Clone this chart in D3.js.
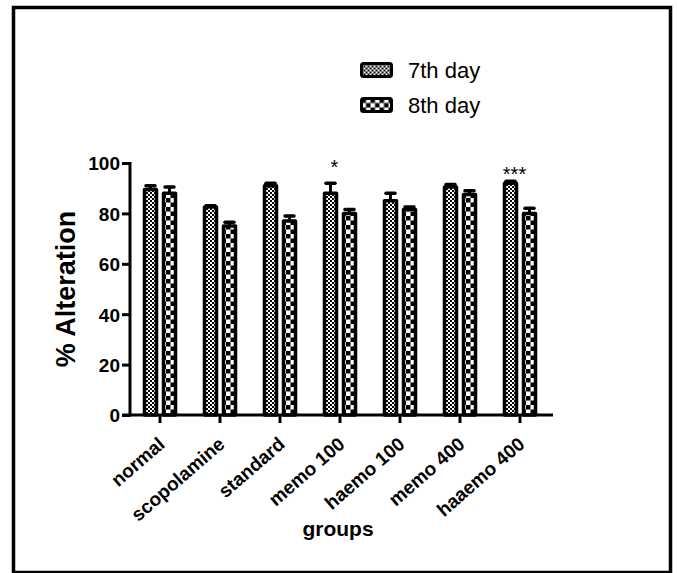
<!DOCTYPE html>
<html>
<head>
<meta charset="utf-8">
<script src="https://cdn.jsdelivr.net/npm/d3@7"></script>
<style>
  html, body { margin: 0; padding: 0; background: #fff; }
  svg { display: block; }
  text { font-family: "Liberation Sans", Arial, sans-serif; }
</style>
</head>
<body>
<svg id="chart" width="677" height="573"></svg>
<script>
// Groups and the two test days
const groups = ["normal", "scopolamine", "standard", "memo 100", "haemo 100", "memo 400", "haaemo 400"];
const series = ["7th day", "8th day"];

// Mean % alternation per group
const day7 = [89.5, 82.5, 91, 88, 85, 90.5, 92];
const day8 = [88, 75, 77, 80, 81.5, 87.5, 80];

// Standard errors (drawn upward only)
const err7 = [1.5, 0.5, 1, 4, 3, 1, 0.8];
const err8 = [2.5, 1.5, 2, 1.5, 1, 1.5, 2];

// Significance marks above the 7th-day bars, with the level (in % units) of their baseline
const stars = ["", "", "", "*", "", "", "***"];
const starLevel = [0, 0, 0, 95.5, 0, 0, 93];

const yTicks = [0, 20, 40, 60, 80, 100];

const svg = d3.select("#chart");

// Outer frame
svg.append("rect")
  .attr("x", 13.5).attr("y", 7.5)
  .attr("width", 657).attr("height", 565)
  .attr("fill", "none").attr("stroke", "#000").attr("stroke-width", 3.5);

// Fill patterns: fine checks for day 7, coarse checks for day 8
const defs = svg.append("defs");
function checker(id, s) {
  const p = defs.append("pattern")
    .attr("id", id).attr("patternUnits", "userSpaceOnUse")
    .attr("width", 2 * s).attr("height", 2 * s);
  p.append("rect").attr("width", 2 * s).attr("height", 2 * s).attr("fill", "#fff");
  p.append("rect").attr("width", s).attr("height", s).attr("fill", "#000");
  p.append("rect").attr("x", s).attr("y", s).attr("width", s).attr("height", s).attr("fill", "#000");
}
checker("fine", 2);
checker("coarse", 4.5);
const fills = ["url(#fine)", "url(#coarse)"];

const x0 = d3.scaleBand().domain(groups).range([130, 550]);
const x1 = d3.scaleBand().domain(series).range([14.5, 45.5]).paddingInner(7 / 19);
const y = d3.scaleLinear().domain([0, 100]).range([415, 163]);

const rows = groups.map((g, i) => ({
  g,
  vals: [
    { s: series[0], v: day7[i], e: err7[i], star: stars[i], lvl: starLevel[i] },
    { s: series[1], v: day8[i], e: err8[i], star: "", lvl: 0 }
  ]
}));

const gGroup = svg.selectAll("g.grp").data(rows).join("g")
  .attr("class", "grp")
  .attr("transform", d => `translate(${x0(d.g)},0)`);

// Error bars (upward whisker + cap)
gGroup.selectAll("g.err").data(d => d.vals).join("g")
  .attr("class", "err")
  .each(function (d) {
    const cx = x1(d.s) + x1.bandwidth() / 2;
    const g = d3.select(this);
    g.append("line")
      .attr("x1", cx).attr("x2", cx)
      .attr("y1", y(d.v)).attr("y2", y(d.v + d.e))
      .attr("stroke", "#000").attr("stroke-width", 3);
    g.append("line")
      .attr("x1", cx - 4.5).attr("x2", cx + 4.5)
      .attr("y1", y(d.v + d.e)).attr("y2", y(d.v + d.e))
      .attr("stroke", "#000").attr("stroke-width", 3.5)
      .attr("stroke-linecap", "round");
  });

// Bars
gGroup.selectAll("rect.bar").data(d => d.vals).join("rect")
  .attr("class", "bar")
  .attr("x", d => x1(d.s))
  .attr("width", x1.bandwidth())
  .attr("y", d => y(d.v))
  .attr("height", d => y(0) - y(d.v))
  .attr("fill", (d, i) => fills[i])
  .attr("stroke", "#000").attr("stroke-width", 3.5)
  .attr("stroke-linejoin", "round");

// Significance stars
gGroup.selectAll("text.star").data(d => d.vals.filter(v => v.star)).join("text")
  .attr("class", "star")
  .attr("x", d => x1(d.s) + x1.bandwidth() / 2 + 4)
  .attr("y", d => y(d.lvl))
  .attr("text-anchor", "middle")
  .attr("font-size", 20)
  .text(d => d.star);

// Y axis
const yAxis = svg.append("g")
  .attr("transform", "translate(130,0)")
  .call(d3.axisLeft(y).tickValues(yTicks).tickSize(8).tickPadding(2).tickSizeOuter(0));
yAxis.select(".domain").attr("stroke-width", 3).attr("d", `M0,${y(100) - 1}H0V${y(0) + 1.5}`);
yAxis.selectAll(".tick line").attr("stroke-width", 3);
yAxis.selectAll(".tick text")
  .attr("font-size", 19).attr("font-weight", "bold")
  .attr("font-family", "'Liberation Sans', Arial, sans-serif")
  .attr("dy", "0.36em");

// X axis
const xAxis = svg.append("g")
  .attr("transform", `translate(0,${y(0)})`)
  .call(d3.axisBottom(x0).tickSize(8).tickSizeOuter(0).tickFormat(""));
xAxis.select(".domain").attr("stroke-width", 3).attr("d", "M122,0H553");
xAxis.selectAll(".tick line").attr("stroke-width", 3);

// Rotated category labels
svg.append("g").selectAll("text").data(groups).join("text")
  .attr("transform", d => `translate(${x0(d) + x0.bandwidth() / 2 + 6},${446}) rotate(-41)`)
  .attr("text-anchor", "end")
  .attr("font-size", 19).attr("font-weight", "bold")
  .text(d => d);

// Axis titles
svg.append("text")
  .attr("transform", `translate(75,${y(50)}) rotate(-90)`)
  .attr("text-anchor", "middle")
  .attr("font-size", 27).attr("font-weight", "bold")
  .text("% Alteration");

svg.append("text")
  .attr("x", 338).attr("y", 536)
  .attr("text-anchor", "middle")
  .attr("font-size", 21).attr("font-weight", "bold")
  .text("groups");

// Legend
const legend = svg.append("g").selectAll("g").data(series).join("g")
  .attr("transform", (d, i) => `translate(361.5,${63.5 + i * 35})`);
legend.append("rect")
  .attr("width", 30).attr("height", 13)
  .attr("rx", 2)
  .attr("fill", (d, i) => fills[i])
  .attr("stroke", "#000").attr("stroke-width", 3);
legend.append("text")
  .attr("x", 46.5).attr("y", 14.5)
  .attr("font-size", 22)
  .text(d => d);
</script>
</body>
</html>
